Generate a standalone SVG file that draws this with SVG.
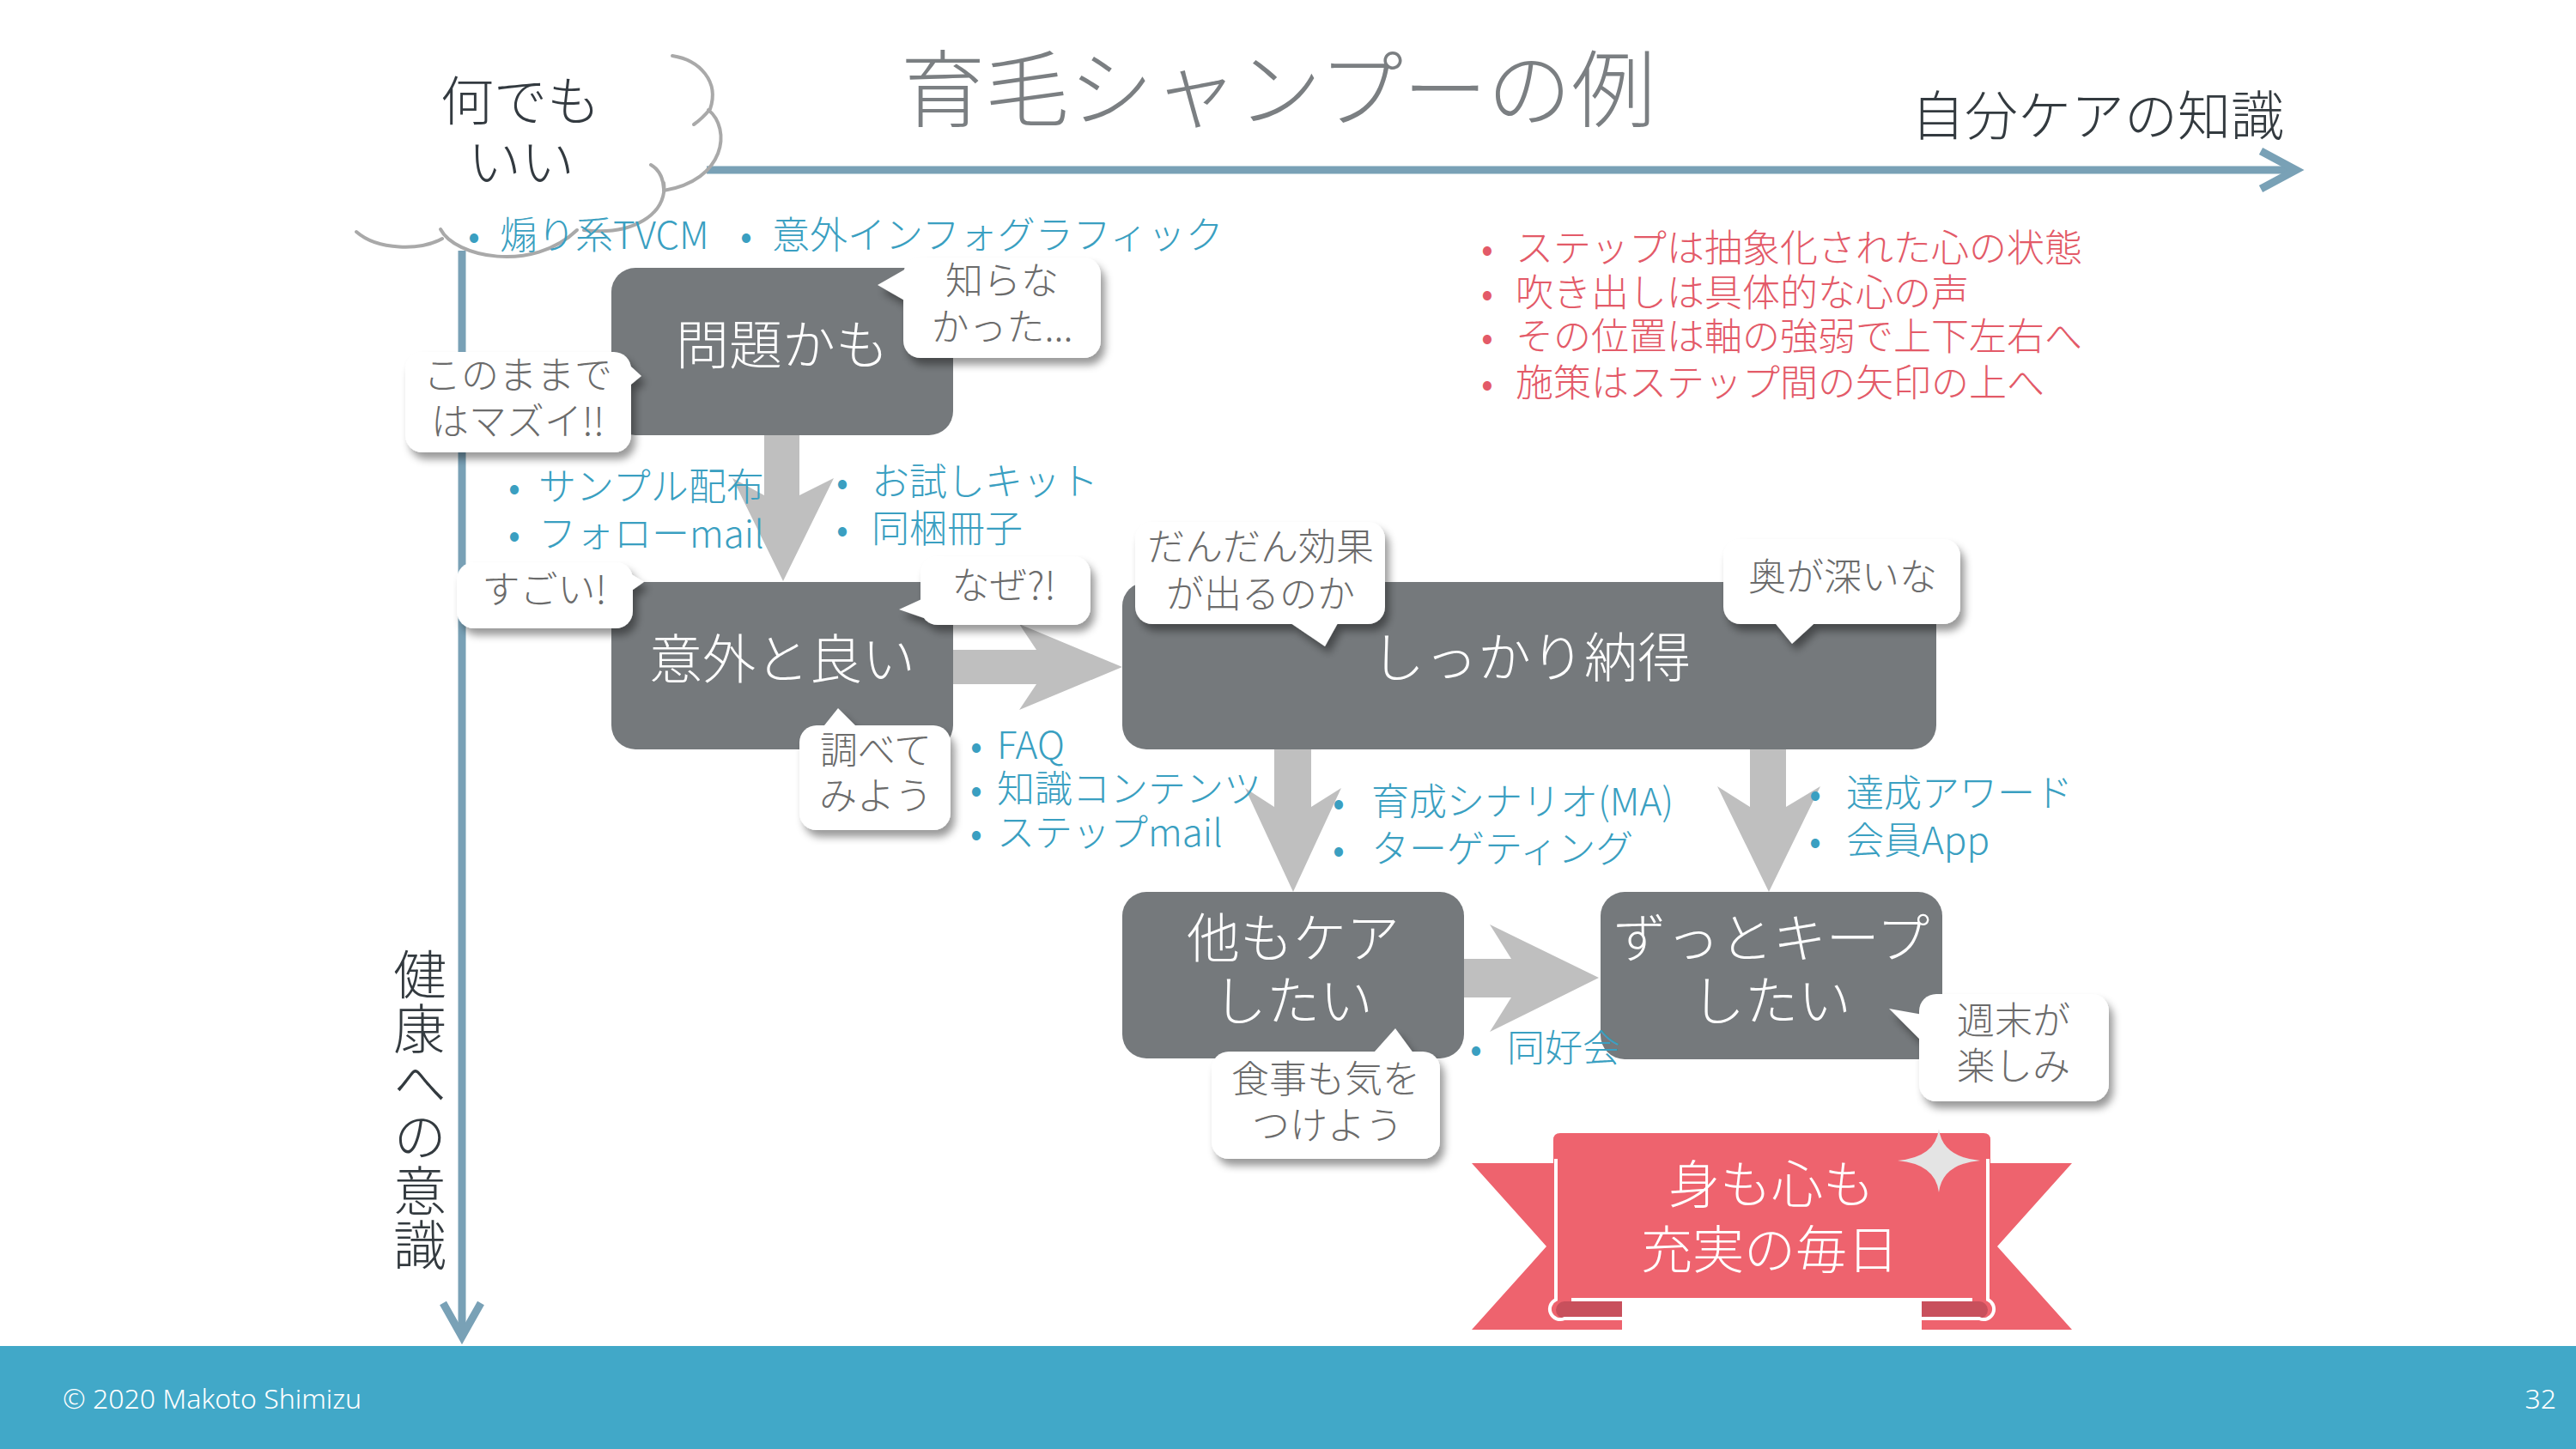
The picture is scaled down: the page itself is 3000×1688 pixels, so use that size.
<svg xmlns="http://www.w3.org/2000/svg" width="3000" height="1688" viewBox="0 0 3000 1688">
<defs>
<filter id="sh" x="-20%" y="-20%" width="150%" height="170%">
<feDropShadow dx="5" dy="8" stdDeviation="5" flood-color="#000" flood-opacity="0.4"/>
</filter>
</defs>
<style>
text{font-family:"Noto Sans CJK JP","Noto Sans",sans-serif;font-weight:300;}
.node rect{fill:#75797c;}
.nt{font-size:62px;fill:#fff;text-anchor:middle;}
.bub{fill:#fff;}
.bt{font-size:44px;fill:#6b6b6b;text-anchor:middle;}
.blue{font-size:44px;fill:#3a9fc1;}
.red{font-size:44px;fill:#e35a68;}
.arrow{fill:#bfbfbf;}
.axis{stroke:#79a1b6;stroke-width:9;fill:none;}
.cl{stroke:#a9a9a9;stroke-width:4;fill:none;stroke-linecap:round;}
.rib{fill:#ee636e;}
.fold{fill:#c8505c;}
</style>
<rect x="0" y="0" width="3000" height="1688" fill="#fff"/>

<!-- title -->
<text x="1049" y="140" font-size="98" fill="#7b7f82">育毛シャンプーの例</text>
<text x="2226" y="158" font-size="62" fill="#333a3f">自分ケアの知識</text>

<!-- axes -->
<g id="axes">
<line class="axis" x1="823" y1="198" x2="2672" y2="198"/>
<polyline class="axis" points="2633,176 2674,198 2633,220"/>
<line class="axis" x1="538" y1="292" x2="538" y2="1555"/>
<polyline class="axis" points="516,1518 538,1557 560,1518"/>
<text x="489" y="1104" font-size="62" fill="#333a3f" writing-mode="vertical-rl" letter-spacing="1">健康への意識</text>
</g>

<!-- cloud -->
<g id="cloud">
<path class="cl" d="M783,65 C815,70 838,95 827,127 Q818,138 808,145"/>
<path class="cl" d="M825,128 C852,150 845,210 773,222"/>
<path class="cl" d="M758,192 Q772,200 773,220"/>
<path class="cl" d="M773,213 C778,250 735,275 680,268"/>
<path class="cl" d="M513,267 C530,300 620,318 672,268"/>
<path class="cl" d="M415,270 C440,292 490,292 515,278"/>
<text x="606" y="141" font-size="62" fill="#333a40" text-anchor="middle">何でも</text>
<text x="607" y="212" font-size="62" fill="#333a40" text-anchor="middle">いい</text>
</g>

<!-- connectors (block arrows) -->
<g id="connectors">
<polygon class="arrow" points="890,505 931,505 931,577 971,557 912,677 853,557 890,577"/>
<polygon class="arrow" points="1108,757 1207,757 1187,727 1307,777 1187,827 1207,797 1108,797"/>
<polygon class="arrow" points="1484,871 1527,871 1527,940 1562,918 1506,1039 1450,918 1484,940"/>
<polygon class="arrow" points="2038,871 2080,871 2080,940 2120,916 2060,1039 2000,916 2038,940"/>
<polygon class="arrow" points="1703,1117 1760,1117 1735,1077 1862,1139 1735,1202 1760,1162 1703,1162"/>
</g>

<!-- nodes -->
<g id="n-mondai" class="node"><rect x="712" y="312" width="398" height="195" rx="28"/><text class="nt" x="911" y="425">問題かも</text></g>
<g id="n-igai" class="node"><rect x="712" y="678" width="398" height="195" rx="28"/><text class="nt" x="911" y="791">意外と良い</text></g>
<g id="n-nattoku" class="node"><rect x="1307" y="678" width="948" height="195" rx="28"/><text class="nt" x="1783" y="789">しっかり納得</text></g>
<g id="n-hoka" class="node"><rect x="1307" y="1039" width="398" height="194" rx="28"/><text class="nt" x="1506" y="1116">他もケア</text><text class="nt" x="1506" y="1189">したい</text></g>
<g id="n-keep" class="node"><rect x="1864" y="1039" width="398" height="195" rx="28"/><text class="nt" x="2063" y="1116">ずっとキープ</text><text class="nt" x="2063" y="1189">したい</text></g>

<!-- speech bubbles -->
<g id="b-shiranakatta">
<g class="bub" filter="url(#sh)"><rect x="1052" y="300" width="230" height="117" rx="20"/><polygon points="1064,308 1022,332 1064,356"/></g>
<text class="bt" x="1167" y="343">知らな</text><text class="bt" x="1167" y="397">かった...</text>
</g>
<g id="b-mazui">
<g class="bub" filter="url(#sh)"><rect x="472" y="410" width="263" height="117" rx="20"/><polygon points="725,418 747,438 725,456"/></g>
<text class="bt" x="603" y="453">このままで</text><text class="bt" x="603" y="507">はマズイ!!</text>
</g>
<g id="b-sugoi">
<g class="bub" filter="url(#sh)"><rect x="532" y="655" width="205" height="77" rx="20"/><polygon points="727,664 750,678 727,694"/></g>
<text class="bt" x="634" y="703">すごい!</text>
</g>
<g id="b-naze">
<g class="bub" filter="url(#sh)"><rect x="1072" y="648" width="198" height="80" rx="20"/><polygon points="1082,694 1047,710 1082,722"/></g>
<text class="bt" x="1169" y="698">なぜ?!</text>
</g>
<g id="b-shirabete">
<g class="bub" filter="url(#sh)"><rect x="931" y="845" width="176" height="122" rx="20"/><polygon points="952,855 976,825 1006,855"/></g>
<text class="bt" x="1020" y="890">調べて</text><text class="bt" x="1020" y="943">みよう</text>
</g>
<g id="b-dandan">
<g class="bub" filter="url(#sh)"><rect x="1322" y="608" width="291" height="119" rx="20"/><polygon points="1490,717 1543,753 1563,717"/></g>
<text class="bt" x="1468" y="653">だんだん効果</text><text class="bt" x="1468" y="708">が出るのか</text>
</g>
<g id="b-oku">
<g class="bub" filter="url(#sh)"><rect x="2007" y="628" width="276" height="99" rx="20"/><polygon points="2060,717 2087,750 2123,717"/></g>
<text class="bt" x="2146" y="688">奥が深いな</text>
</g>
<g id="b-shokuji">
<g class="bub" filter="url(#sh)"><rect x="1411" y="1225" width="266" height="125" rx="20"/><polygon points="1592,1235 1625,1198 1652,1235"/></g>
<text class="bt" x="1544" y="1273">食事も気を</text><text class="bt" x="1546" y="1327">つけよう</text>
</g>
<g id="b-shumatsu">
<g class="bub" filter="url(#sh)"><rect x="2235" y="1158" width="221" height="125" rx="20"/><polygon points="2245,1183 2200,1175 2245,1220"/></g>
<text class="bt" x="2345" y="1205">週末が</text><text class="bt" x="2345" y="1258">楽しみ</text>
</g>

<!-- measures (blue) -->
<g id="measures">
<text class="blue" y="290"><tspan x="545">•</tspan><tspan x="582">煽り系TVCM</tspan><tspan x="862">•</tspan><tspan x="899">意外インフォグラフィック</tspan></text>
<text class="blue"><tspan x="592" y="583">•</tspan><tspan x="627" y="583">サンプル配布</tspan><tspan x="592" y="638">•</tspan><tspan x="627" y="638">フォローmail</tspan></text>
<text class="blue"><tspan x="974" y="577">•</tspan><tspan x="1015" y="577">お試しキット</tspan><tspan x="974" y="632">•</tspan><tspan x="1015" y="632">同梱冊子</tspan></text>
<text class="blue"><tspan x="1130" y="884">•</tspan><tspan x="1161" y="884">FAQ</tspan><tspan x="1130" y="935">•</tspan><tspan x="1161" y="935">知識コンテンツ</tspan><tspan x="1130" y="986">•</tspan><tspan x="1161" y="986">ステップmail</tspan></text>
<text class="blue"><tspan x="1552" y="950">•</tspan><tspan x="1597" y="950">育成シナリオ(MA)</tspan><tspan x="1552" y="1005">•</tspan><tspan x="1597" y="1005">ターゲティング</tspan></text>
<text class="blue"><tspan x="2107" y="940">•</tspan><tspan x="2150" y="940">達成アワード</tspan><tspan x="2107" y="995">•</tspan><tspan x="2150" y="995">会員App</tspan></text>
<text class="blue"><tspan x="1712" y="1237">•</tspan><tspan x="1755" y="1237">同好会</tspan></text>
</g>

<!-- notes (red) -->
<g id="notes">
<text class="red"><tspan x="1725" y="305">•</tspan><tspan x="1765" y="305">ステップは抽象化された心の状態</tspan><tspan x="1725" y="357">•</tspan><tspan x="1765" y="357">吹き出しは具体的な心の声</tspan><tspan x="1725" y="408">•</tspan><tspan x="1765" y="408">その位置は軸の強弱で上下左右へ</tspan><tspan x="1725" y="462">•</tspan><tspan x="1765" y="462">施策はステップ間の矢印の上へ</tspan></text>
</g>

<!-- goal ribbon -->
<g id="goal">
<path class="rib" d="M1714,1355 L1830,1355 L1830,1516 L1889,1516 L1889,1549 L1714,1549 L1801,1452 Z"/>
<path class="rib" d="M2413,1355 L2297,1355 L2297,1516 L2238,1516 L2238,1549 L2413,1549 L2326,1452 Z"/>
<path class="fold" d="M1889,1516 L1822,1516 A10,10 0 0 0 1822,1536 L1889,1536 Z"/>
<path class="fold" d="M2238,1516 L2305,1516 A10,10 0 0 1 2305,1536 L2238,1536 Z"/>
<path class="rib" d="M1817,1320 H2310 Q2318,1320 2318,1328 V1512 H1809 V1328 Q1809,1320 1817,1320 Z"/>
<path d="M1812,1350 V1514 A11,11 0 0 0 1822,1536 H1889 A6.5,6.5 0 0 1 1889,1549" fill="none" stroke="#fff" stroke-width="4"/>
<path d="M2315,1350 V1514 A11,11 0 0 1 2305,1536 H2238 A6.5,6.5 0 0 0 2238,1549" fill="none" stroke="#fff" stroke-width="4"/>
<path d="M2258,1315 Q2262,1348 2306,1352 Q2262,1356 2258,1389 Q2254,1356 2210,1352 Q2254,1348 2258,1315 Z" fill="#e4e4e4"/>
<text x="2063" y="1402" font-size="60" fill="#fff" text-anchor="middle">身も心も</text>
<text x="2061" y="1478" font-size="60" fill="#fff" text-anchor="middle">充実の毎日</text>
</g>

<!-- footer -->
<g id="footer">
<rect x="0" y="1568" width="3000" height="120" fill="#41a8c8"/>
<text x="73" y="1641" font-size="32" fill="#fff" style="font-family:'Noto Sans','Liberation Sans',sans-serif">© 2020 Makoto Shimizu</text>
<text x="2977" y="1641" font-size="32" fill="#fff" text-anchor="end" style="font-family:'Noto Sans','Liberation Sans',sans-serif">32</text>
</g>
</svg>
